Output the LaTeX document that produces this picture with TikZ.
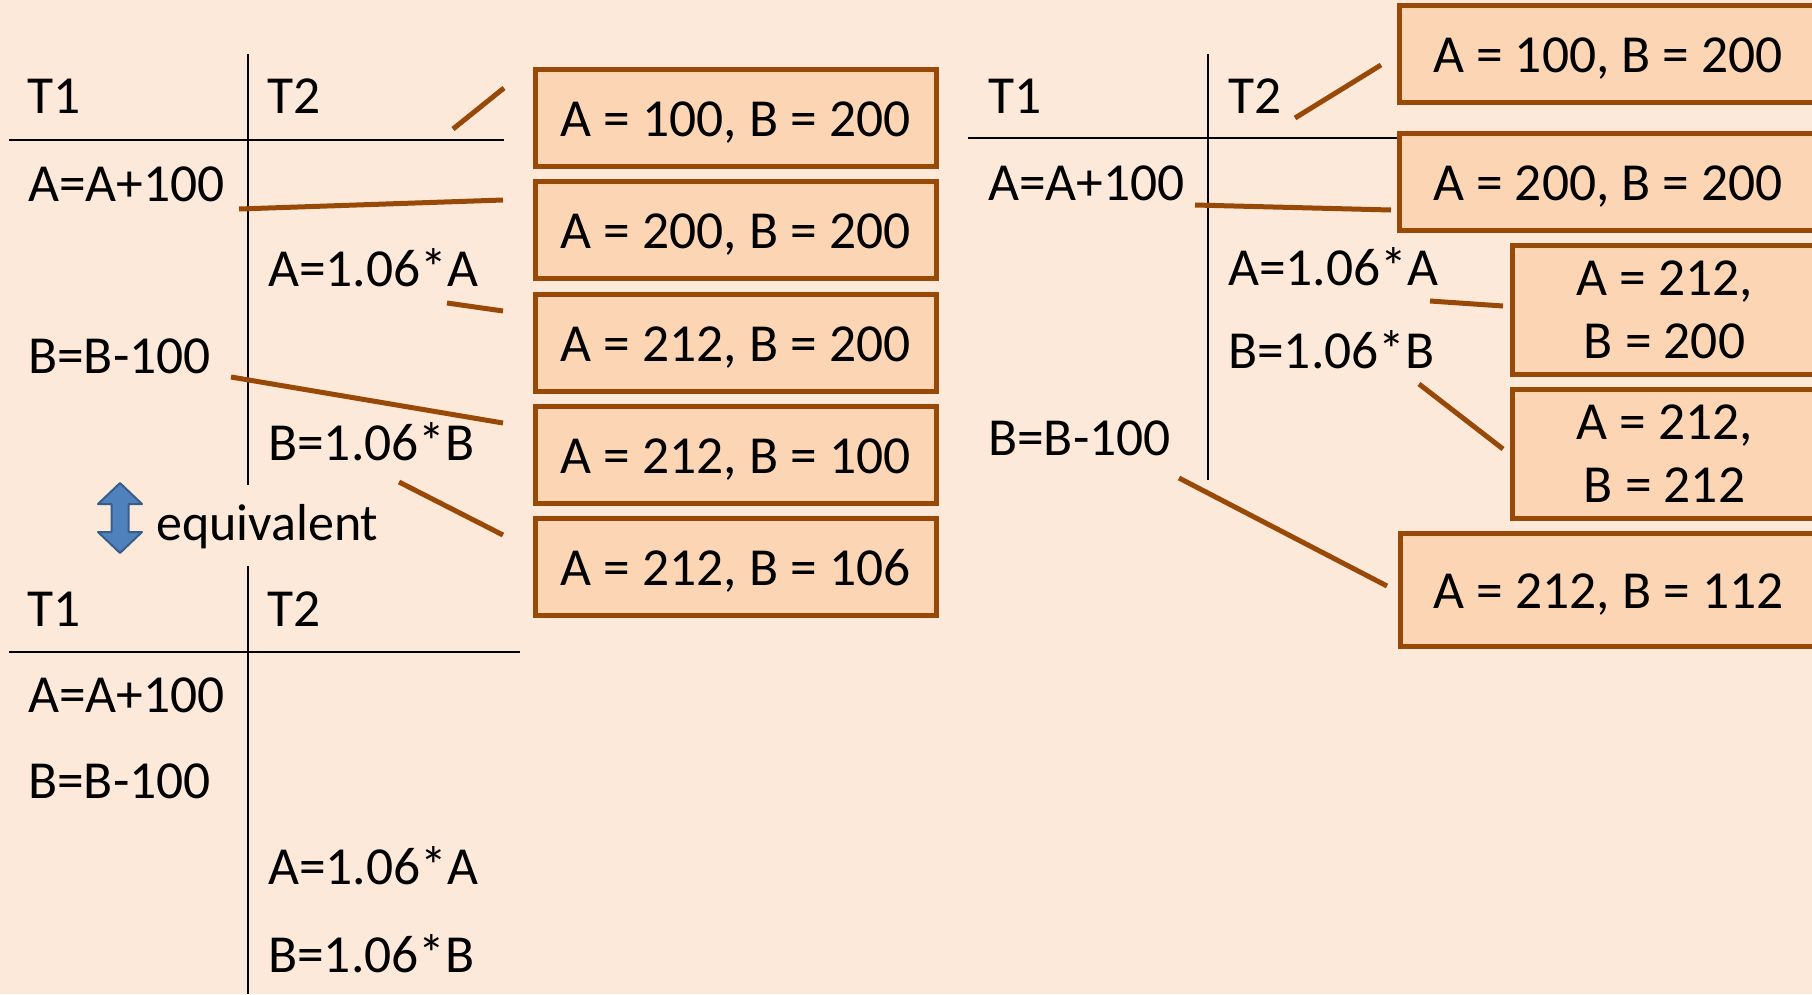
\documentclass[tikz,border=0pt]{standalone}
\usepackage{fontspec}
\setmainfont{Carlito}
\definecolor{pagebg}{HTML}{FDE9D9}
\definecolor{boxfill}{HTML}{FCD5B5}
\definecolor{boxline}{HTML}{984807}
\definecolor{arrowfill}{HTML}{4F81BD}
\definecolor{arrowline}{HTML}{385D8A}
\tikzset{
  txt/.style={anchor=base west, inner sep=0pt, font=\fontsize{53.5}{63}\selectfont},
  rule/.style={draw=black, line width=2.6pt},
  statebase/.style={draw=boxline, fill=boxfill, line width=5pt, inner sep=0pt,
    align=center, font=\fontsize{53.5}{63}\selectfont},
  state/.style={statebase, text height=37pt, text depth=0pt},
  statetwo/.style={statebase},
  link/.style={draw=boxline, line width=5pt},
}
\begin{document}
\begin{tikzpicture}[x=1pt,y=-1pt]
\useasboundingbox (0,0) rectangle (1812,994);
\fill[pagebg] (0,0) rectangle (1812,994);
\begin{scope}
\clip (0,0) rectangle (1812,994);

% ---- schedule 1 (interleaved) ----
\draw[rule] (248,54) -- (248,485);
\draw[rule] (9,140) -- (504,140);
\node[txt] (s1t1) at (27,113) {T1};
\node[txt] (s1t2) at (267,113) {T2};
\node[txt] (s1a) at (28,201) {A=A+100};
\node[txt] (s1c) at (268,286) {A=1.06*A};
\node[txt] (s1b) at (28,373) {B=B-100};
\node[txt] (s1d) at (268,460) {B=1.06*B};

% ---- equivalence marker ----
\filldraw[fill=arrowfill, draw=arrowline, line width=2pt, line join=round]
  (120,483) -- (142,504) -- (128.5,504) -- (128.5,532) -- (142,532) -- (120,553)
  -- (98,532) -- (111.5,532) -- (111.5,504) -- (98,504) -- cycle;
\node[txt, font=\fontsize{52}{63}\selectfont] (eq) at (156,540) {equivalent};

% ---- schedule 2 (serial) ----
\draw[rule] (248,566) -- (248,994);
\draw[rule] (9,652) -- (520,652);
\node[txt] (s2t1) at (27,626) {T1};
\node[txt] (s2t2) at (267,626) {T2};
\node[txt] (s2a) at (28,712) {A=A+100};
\node[txt] (s2b) at (28,798) {B=B-100};
\node[txt] (s2c) at (268,884) {A=1.06*A};
\node[txt] (s2d) at (268,972) {B=1.06*B};

% ---- states of schedule 1 ----
\node[state, minimum width=401pt, minimum height=97pt] (m1) at (735.5,117.5) {A = 100, B = 200};
\node[state, minimum width=401pt, minimum height=97pt] (m2) at (735.5,229.5) {A = 200, B = 200};
\node[state, minimum width=401pt, minimum height=97pt] (m3) at (735.5,342.5) {A = 212, B = 200};
\node[state, minimum width=401pt, minimum height=97pt] (m4) at (735.5,454.5) {A = 212, B = 100};
\node[state, minimum width=401pt, minimum height=97pt] (m5) at (735.5,566.5) {A = 212, B = 106};

\coordinate (l1a) at (453,129); \coordinate (l1b) at (504,88);
\coordinate (l2a) at (239,209); \coordinate (l2b) at (503,200);
\coordinate (l3a) at (447,303); \coordinate (l3b) at (503,311);
\coordinate (l4a) at (231,377); \coordinate (l4b) at (503,423);
\coordinate (l5a) at (399,482); \coordinate (l5b) at (503,535);
\draw[link] (l1a) -- (l1b);
\draw[link] (l2a) -- (l2b);
\draw[link] (l3a) -- (l3b);
\draw[link] (l4a) -- (l4b);
\draw[link] (l5a) -- (l5b);

% ---- schedule 3 ----
\draw[rule] (1208,54) -- (1208,480);
\draw[rule] (968,138) -- (1398,138);
\node[txt] (s3t1) at (988,113) {T1};
\node[txt] (s3t2) at (1228,113) {T2};
\node[txt] (s3a) at (988,200) {A=A+100};
\node[txt] (s3c) at (1228,285) {A=1.06*A};
\node[txt] (s3d) at (1228,368) {B=1.06*B};
\node[txt] (s3b) at (988,455) {B=B-100};

% ---- states of schedule 3 ----
\node[state, minimum width=418pt, minimum height=97pt] (r1) at (1608,53.5) {A = 100, B = 200};
\node[state, minimum width=418pt, minimum height=97pt] (r2) at (1608,181.5) {A = 200, B = 200};
\node[statetwo, minimum width=305pt, minimum height=129pt] (r3) at (1664.5,309.5) {A = 212,\\ B = 200};
\node[statetwo, minimum width=305pt, minimum height=129pt] (r4) at (1664.5,453.5) {A = 212,\\ B = 212};
\node[state, minimum width=417pt, minimum height=113pt] (r5) at (1608.5,589.5) {A = 212, B = 112};

\coordinate (k1a) at (1295,118); \coordinate (k1b) at (1381,65);
\coordinate (k2a) at (1195,205); \coordinate (k2b) at (1391,210);
\coordinate (k3a) at (1430,301); \coordinate (k3b) at (1503,306);
\coordinate (k4a) at (1419,384); \coordinate (k4b) at (1503,449);
\coordinate (k5a) at (1179,478); \coordinate (k5b) at (1387,586);
\draw[link] (k1a) -- (k1b);
\draw[link] (k2a) -- (k2b);
\draw[link] (k3a) -- (k3b);
\draw[link] (k4a) -- (k4b);
\draw[link] (k5a) -- (k5b);
\end{scope}
\end{tikzpicture}
\end{document}
